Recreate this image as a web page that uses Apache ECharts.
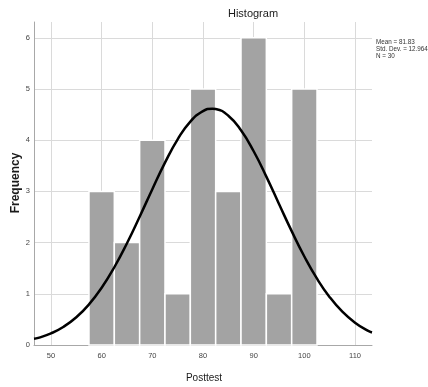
<!DOCTYPE html>
<html>
<head>
<meta charset="utf-8">
<script src="https://cdn.jsdelivr.net/npm/echarts@6/dist/echarts.min.js"></script>
<style>
html,body{margin:0;padding:0;background:#fff;}
#chart{width:428px;height:387px;}
</style>
</head>
<body>
<div id="chart"></div>
<script>
// Histogram bins (Posttest), bin width 5
var binStarts = [57.5, 62.5, 67.5, 72.5, 77.5, 82.5, 87.5, 92.5, 97.5];
var binEnds   = [62.5, 67.5, 72.5, 77.5, 82.5, 87.5, 92.5, 97.5, 102.5];
var frequencies = [3, 2, 4, 1, 5, 3, 6, 1, 5];

// Fitted normal curve points (x, frequency)
var curveX = [46.65, 47.5, 50, 52.5, 55, 57.5, 60, 62.5, 65, 67.5, 70, 72.5, 75, 77.5, 80, 81.83, 82.5, 85, 87.5, 90, 92.5, 95, 97.5, 100, 102.5, 105, 107.5, 110, 112.5, 113.35];
var curveY = [0.12, 0.139, 0.227, 0.357, 0.542, 0.793, 1.118, 1.519, 1.988, 2.506, 3.044, 3.563, 4.018, 4.365, 4.570, 4.616, 4.610, 4.480, 4.195, 3.785, 3.290, 2.755, 2.224, 1.729, 1.295, 0.935, 0.650, 0.435, 0.281, 0.245];

var statsLines = ['Mean = 81.83', 'Std. Dev. = 12.964', 'N = 30'];
var titleText = 'Histogram';
var xName = 'Posttest';
var yName = 'Frequency';

var barData = binStarts.map(function (s, i) { return [s, binEnds[i], frequencies[i]]; });
var curveData = curveX.map(function (x, i) { return [x, curveY[i]]; });

var chart = echarts.init(document.getElementById('chart'), null, {renderer: 'canvas'});
var font = 'Liberation Sans, Arial, sans-serif';
chart.setOption({
  animation: false,
  backgroundColor: '#ffffff',
  textStyle: {fontFamily: font},
  grid: {left: 34, right: 56, top: 22, bottom: 42, containLabel: false},
  title: [{
    text: titleText, left: 248, top: 3, textAlign: 'center',
    textStyle: {fontSize: 11, fontWeight: 'normal', color: '#1a1a1a', fontFamily: font}
  }],
  graphic: [
    {type: 'text', left: 376, top: 39, style: {text: statsLines.join('\n'), fontSize: 6.3, lineHeight: 6.8, fill: '#333', fontFamily: font}},
    {type: 'text', x: 16, y: 183, rotation: Math.PI / 2, style: {text: yName, fontSize: 12, fontWeight: 'bold', fill: '#1a1a1a', fontFamily: font, align: 'center', verticalAlign: 'middle'}},
    {type: 'text', x: 204, y: 378, style: {text: xName, fontSize: 10, fill: '#1a1a1a', fontFamily: font, align: 'center', verticalAlign: 'middle'}}
  ],
  xAxis: {
    type: 'value', min: 46.65, max: 113.35, minInterval: 10, maxInterval: 10,
    axisLine: {show: true, lineStyle: {color: '#a8a8a8', width: 1}},
    axisTick: {show: false},
    axisLabel: {fontSize: 7.5, color: '#444', margin: 7, showMinLabel: false, showMaxLabel: false, fontFamily: font},
    splitLine: {show: true, showMinLine: false, showMaxLine: false, lineStyle: {color: '#dadada', width: 1}}
  },
  yAxis: {
    type: 'value', min: 0, max: 6.31, minInterval: 1, maxInterval: 1,
    axisLine: {show: true, lineStyle: {color: '#a8a8a8', width: 1}},
    axisTick: {show: false},
    axisLabel: {fontSize: 7.5, color: '#444', margin: 4, showMaxLabel: false, fontFamily: font},
    splitLine: {show: true, showMinLine: false, showMaxLine: false, lineStyle: {color: '#dadada', width: 1}}
  },
  series: [
    {
      type: 'custom',
      data: barData,
      encode: {x: [0, 1], y: 2},
      renderItem: function (params, api) {
        var p0 = api.coord([api.value(0), api.value(2)]);
        var p1 = api.coord([api.value(1), 0]);
        return {
          type: 'rect',
          shape: {x: p0[0], y: p0[1], width: p1[0] - p0[0], height: p1[1] - p0[1]},
          style: {fill: '#a3a3a3', stroke: '#ffffff', lineWidth: 1.5}
        };
      },
      z: 2
    },
    {
      type: 'line',
      data: curveData,
      smooth: true,
      showSymbol: false,
      symbol: 'none',
      lineStyle: {color: '#000', width: 2.5},
      z: 3
    }
  ]
});
</script>
</body>
</html>
